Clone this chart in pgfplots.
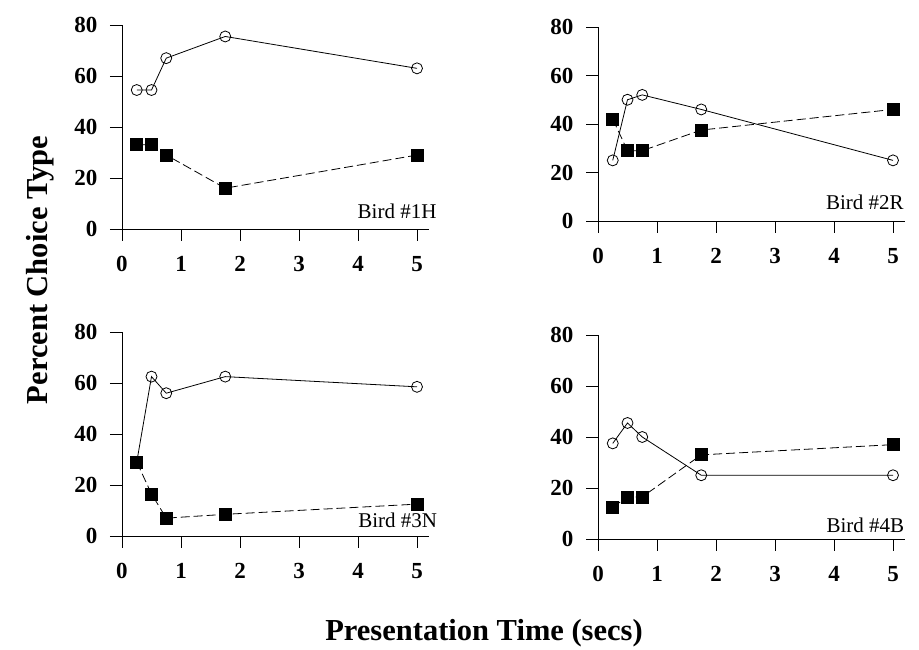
\documentclass[border=0pt]{standalone}
\usepackage{pgfplots}
\pgfplotsset{compat=1.18}
\usepackage{fontspec}
\setmainfont{Liberation Serif}

\pgfplotsset{
  bird/.style={
    scale only axis,
    width=318.6pt,
    xmin=-0.2, xmax=5.2,
    ymin=0, ymax=80,
    axis lines=middle,
    axis line style={-, line width=0.9pt},
    tick align=outside,
    major tick length=12pt,
    tick style={black, line width=0.9pt},
    xtick={0,1,2,3,4,5},
    ytick={0,20,40,60,80},
    hide obscured x ticks=false,
    hide obscured y ticks=false,
    ticklabel style={font=\bfseries\fontsize{23}{24}\selectfont},
    xticklabel style={anchor=north, yshift=-12pt},
    yticklabel style={anchor=east, xshift=-9pt},
    /pgf/number format/assume math mode=true,
    clip=false,
  },
  opn/.style={black, line width=0.8pt, mark=o, mark size=5.5pt, mark options={solid, fill=white}},
  sqr/.style={black, line width=0.8pt, dash pattern=on 9pt off 4pt, mark=square*, mark size=6pt, mark options={solid}},
}
\tikzset{tag/.style={anchor=east, font=\fontsize{21}{22}\selectfont}}

\begin{document}
\begin{tikzpicture}
\useasboundingbox (0,0) rectangle (919pt,650pt);

% Bird 1H
\begin{axis}[bird, height=204pt, at={(110.2pt,421pt)}, anchor=south west]
\addplot[opn] coordinates {(0.25,54.5) (0.5,54.5) (0.75,67) (1.75,75.5) (5,63)};
\addplot[sqr] coordinates {(0.25,33) (0.5,33) (0.75,29) (1.75,16) (5,29)};
\node[tag] at (axis cs:5.39,6.8) {Bird \#1H};
\end{axis}

% Bird 2R
\begin{axis}[bird, height=194pt, at={(586.2pt,429pt)}, anchor=south west]
\addplot[opn] coordinates {(0.25,25) (0.5,50) (0.75,52) (1.75,46) (5,25)};
\addplot[sqr] coordinates {(0.25,42) (0.5,29) (0.75,29) (1.75,37.5) (5,46)};
\node[tag] at (axis cs:5.24,7.8) {Bird \#2R};
\end{axis}

% Bird 3N
\begin{axis}[bird, height=204pt, at={(110.2pt,114pt)}, anchor=south west]
\addplot[opn] coordinates {(0.25,29) (0.5,62.5) (0.75,56) (1.75,62.5) (5,58.5)};
\addplot[sqr] coordinates {(0.25,29) (0.5,16.5) (0.75,7) (1.75,8.5) (5,12.5)};
\node[tag] at (axis cs:5.4,6.3) {Bird \#3N};
\end{axis}

% Bird 4B
\begin{axis}[bird, height=204pt, at={(586.2pt,111pt)}, anchor=south west]
\addplot[opn] coordinates {(0.25,37.5) (0.5,45.5) (0.75,40) (1.75,25) (5,25)};
\addplot[sqr] coordinates {(0.25,12.5) (0.5,16.5) (0.75,16.5) (1.75,33) (5,37)};
\node[tag] at (axis cs:5.25,5.5) {Bird \#4B};
\end{axis}

\node[rotate=90, font=\bfseries\fontsize{30.5}{32}\selectfont] at (40pt,380pt) {Percent Choice Type};
\node[font=\bfseries\fontsize{30.5}{32}\selectfont] at (484pt,17pt) {Presentation Time (secs)};
\end{tikzpicture}
\end{document}
